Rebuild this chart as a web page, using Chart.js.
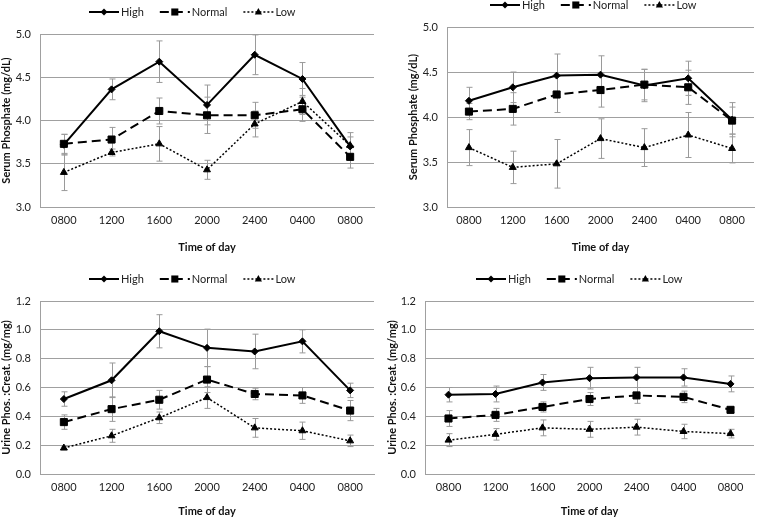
<!DOCTYPE html>
<html>
<head>
    <title>Phosphate by time of day</title>
    <script src="https://cdn.jsdelivr.net/npm/chart.js"></script>
    <style>
        body { margin: 0; background: #fff; width: 760px; height: 518px; position: relative; overflow: hidden; }
        .panel { position: absolute; }
    </style>
</head>
<body>
    <div class="panel" style="left:0;top:0"><canvas id="serumA" width="380" height="258"></canvas></div>
    <div class="panel" style="left:380px;top:0"><canvas id="serumB" width="380" height="258"></canvas></div>
    <div class="panel" style="left:0;top:258px"><canvas id="urineC" width="380" height="260"></canvas></div>
    <div class="panel" style="left:380px;top:258px"><canvas id="urineD" width="380" height="260"></canvas></div>

    <script>
        const timeLabels = ['0800', '1200', '1600', '2000', '2400', '0400', '0800'];
        const seriesNames = ['High', 'Normal', 'Low'];

        // top left
        const serumHighA = [3.72, 4.36, 4.68, 4.18, 4.76, 4.48, 3.70];
        const serumHighErrA = [0.12, 0.12, 0.24, 0.23, 0.23, 0.19, 0.16];
        const serumNormalA = [3.73, 3.78, 4.11, 4.06, 4.06, 4.13, 3.58];
        const serumNormalErrA = [0.11, 0.14, 0.15, 0.21, 0.15, 0.14, 0.13];
        const serumLowA = [3.40, 3.63, 3.73, 3.43, 3.96, 4.22, 3.71];
        const serumLowErrA = [0.21, 0.04, 0.20, 0.11, 0.15, 0.15, 0.10];

        // top right
        const serumHighB = [4.18, 4.33, 4.46, 4.47, 4.35, 4.43, 3.97];
        const serumHighErrB = [0.15, 0.17, 0.24, 0.21, 0.18, 0.19, 0.19];
        const serumNormalB = [4.06, 4.09, 4.25, 4.30, 4.36, 4.33, 3.96];
        const serumNormalErrB = [0.09, 0.18, 0.20, 0.19, 0.17, 0.19, 0.15];
        const serumLowB = [3.66, 3.44, 3.48, 3.76, 3.66, 3.80, 3.65];
        const serumLowErrB = [0.20, 0.18, 0.27, 0.22, 0.21, 0.25, 0.16];

        // bottom left
        const urineHighC = [0.52, 0.65, 0.99, 0.875, 0.85, 0.92, 0.58];
        const urineHighErrC = [0.05, 0.12, 0.115, 0.13, 0.12, 0.08, 0.05];
        const urineNormalC = [0.36, 0.45, 0.515, 0.655, 0.555, 0.545, 0.44];
        const urineNormalErrC = [0.05, 0.085, 0.065, 0.09, 0.04, 0.055, 0.07];
        const urineLowC = [0.18, 0.265, 0.39, 0.53, 0.32, 0.30, 0.23];
        const urineLowErrC = [0.01, 0.045, 0.04, 0.075, 0.065, 0.06, 0.04];

        // bottom right
        const urineHighD = [0.55, 0.555, 0.635, 0.665, 0.67, 0.67, 0.625];
        const urineHighErrD = [0.05, 0.055, 0.055, 0.075, 0.07, 0.06, 0.055];
        const urineNormalD = [0.385, 0.41, 0.465, 0.52, 0.545, 0.535, 0.445];
        const urineNormalErrD = [0.055, 0.045, 0.035, 0.045, 0.055, 0.04, 0.02];
        const urineLowD = [0.235, 0.275, 0.32, 0.31, 0.325, 0.295, 0.28];
        const urineLowErrD = [0.045, 0.04, 0.055, 0.055, 0.055, 0.05, 0.03];

        const FONT = 'Lato, "Open Sans", sans-serif';
        const GRID = '#a0a0a0';

        // line styles for High / Normal / Low
        const looks = [
            { borderWidth: 2, borderDash: [], pointStyle: 'rectRot', pointRadius: 3.5 },
            { borderWidth: 2, borderDash: [9, 5], pointStyle: 'rect', pointRadius: 5 },
            { borderWidth: 1.5, borderDash: [2, 2], pointStyle: 'triangle', pointRadius: 4 }
        ];

        function marker(ctx, style, r, x, y) {
            ctx.beginPath();
            if (style === 'rectRot') {
                ctx.moveTo(x, y - r); ctx.lineTo(x + r, y); ctx.lineTo(x, y + r); ctx.lineTo(x - r, y);
            } else if (style === 'rect') {
                const s = r * Math.SQRT1_2;
                ctx.rect(x - s, y - s, 2 * s, 2 * s);
            } else {
                ctx.moveTo(x, y - r); ctx.lineTo(x + r * 0.9, y + r * 0.6); ctx.lineTo(x - r * 0.9, y + r * 0.6);
            }
            ctx.closePath();
            ctx.fill();
        }

        const errorBars = {
            id: 'errorBars',
            beforeDatasetsDraw(chart) {
                const ctx = chart.ctx;
                const xs = chart.scales.x, ys = chart.scales.y;
                ctx.save();
                ctx.strokeStyle = '#9a9a9a';
                ctx.lineWidth = 1;
                chart.data.datasets.forEach(ds => {
                    ds.data.forEach((v, i) => {
                        const e = ds.errors[i];
                        const x = Math.round(xs.getPixelForValue(i)) + 0.5;
                        const top = ys.getPixelForValue(v + e);
                        const bot = ys.getPixelForValue(v - e);
                        ctx.beginPath();
                        ctx.moveTo(x, top); ctx.lineTo(x, bot);
                        ctx.moveTo(x - 3, top); ctx.lineTo(x + 3, top);
                        ctx.moveTo(x - 3, bot); ctx.lineTo(x + 3, bot);
                        ctx.stroke();
                    });
                });
                ctx.restore();
            }
        };

        const lineLegend = {
            id: 'lineLegend',
            afterDraw(chart, args, opts) {
                const ctx = chart.ctx;
                let x = opts.x;
                const y = opts.y;
                ctx.save();
                ctx.font = '11px ' + FONT;
                ctx.textBaseline = 'middle';
                chart.data.datasets.forEach(ds => {
                    ctx.strokeStyle = '#000';
                    ctx.fillStyle = '#000';
                    ctx.lineWidth = ds.borderWidth;
                    ctx.setLineDash(ds.borderDash);
                    ctx.beginPath();
                    ctx.moveTo(x, y); ctx.lineTo(x + 30, y);
                    ctx.stroke();
                    ctx.setLineDash([]);
                    marker(ctx, ds.pointStyle, ds.pointRadius, x + 15, y);
                    ctx.fillStyle = '#222';
                    ctx.fillText(ds.label, x + 32, y + 0.5);
                    x += 32 + ctx.measureText(ds.label).width + 16;
                });
                ctx.restore();
            }
        };

        function makeChart(id, p) {
            const datasets = p.series.map((s, k) => Object.assign({
                label: seriesNames[k],
                data: s[0],
                errors: s[1],
                borderColor: '#000',
                backgroundColor: '#000',
                pointBackgroundColor: '#000',
                pointBorderColor: '#000',
                pointBorderWidth: 1,
                tension: 0
            }, looks[k]));

            return new Chart(document.getElementById(id), {
                type: 'line',
                data: { labels: timeLabels, datasets: datasets },
                options: {
                    responsive: false,
                    animation: false,
                    layout: { padding: { left: p.padLeft, right: p.padRight, top: p.padTop, bottom: 0 } },
                    scales: {
                        x: {
                            offset: true,
                            grid: { display: false, drawTicks: false },
                            border: { display: true, color: GRID, width: 1 },
                            ticks: { color: '#222', font: { family: FONT, size: 11 }, padding: 7, maxRotation: 0, autoSkip: false },
                            title: { display: true, text: 'Time of day', color: '#111', font: { family: FONT, size: 11, weight: 'bold' }, padding: { top: 0, bottom: p.titleBottom } },
                            afterFit: s => { s.height = p.xHeight; }
                        },
                        y: {
                            min: p.min, max: p.max,
                            grid: { color: GRID, lineWidth: 1, drawTicks: false },
                            border: { display: true, color: GRID, width: 1 },
                            ticks: { stepSize: p.step, color: '#222', padding: 9, font: { family: FONT, size: 11 }, callback: v => v.toFixed(1) },
                            title: { display: true, text: p.yTitle, color: '#111', font: { family: FONT, size: 11, weight: 'bold' }, padding: 0 },
                            afterFit: s => { s.width = p.yWidth; }
                        }
                    },
                    plugins: {
                        legend: { display: false },
                        tooltip: { enabled: false },
                        lineLegend: { x: p.legendX, y: p.legendY }
                    }
                },
                plugins: [errorBars, lineLegend]
            });
        }

        window.onload = () => {
            makeChart('serumA', {
                series: [[serumHighA, serumHighErrA], [serumNormalA, serumNormalErrA], [serumLowA, serumLowErrA]],
                min: 3, max: 5, step: 0.5, yTitle: 'Serum Phosphate (mg/dL)',
                padLeft: 0, padRight: 5, padTop: 34, yWidth: 40, xHeight: 51, titleBottom: 4,
                legendX: 89, legendY: 12
            });
            makeChart('serumB', {
                series: [[serumHighB, serumHighErrB], [serumNormalB, serumNormalErrB], [serumLowB, serumLowErrB]],
                min: 3, max: 5, step: 0.5, yTitle: 'Serum Phosphate (mg/dL)',
                padLeft: 27, padRight: 1, padTop: 27, yWidth: 40, xHeight: 51, titleBottom: 4,
                legendX: 110, legendY: 5
            });
            makeChart('urineC', {
                series: [[urineHighC, urineHighErrC], [urineNormalC, urineNormalErrC], [urineLowC, urineLowErrC]],
                min: 0, max: 1.2, step: 0.2, yTitle: 'Urine Phos. :Creat. (mg/mg)',
                padLeft: 0, padRight: 5, padTop: 43, yWidth: 40, xHeight: 44, titleBottom: 0,
                legendX: 89, legendY: 21
            });
            makeChart('urineD', {
                series: [[urineHighD, urineHighErrD], [urineNormalD, urineNormalErrD], [urineLowD, urineLowErrD]],
                min: 0, max: 1.2, step: 0.2, yTitle: 'Urine Phos. :Creat. (mg/mg)',
                padLeft: 6, padRight: 0, padTop: 43, yWidth: 39, xHeight: 44, titleBottom: 0,
                legendX: 96, legendY: 21
            });
        };
    </script>
</body>
</html>
